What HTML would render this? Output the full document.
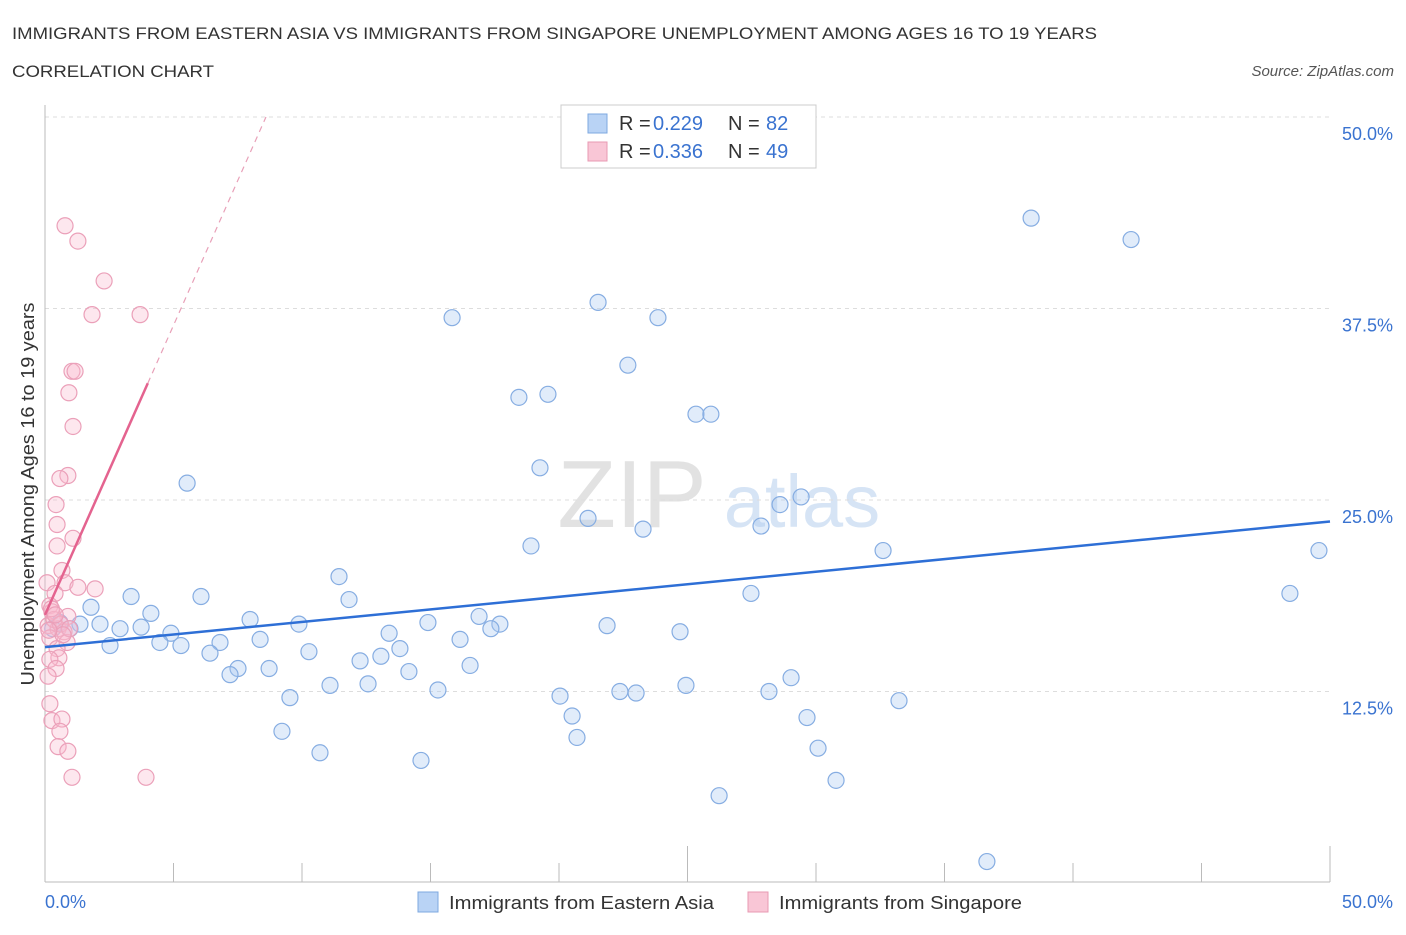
<!DOCTYPE html>
<html><head><meta charset="utf-8"><style>
body{margin:0;background:#fff;font-family:"Liberation Sans",sans-serif;}
svg text{font-family:"Liberation Sans",sans-serif;}
</style></head><body>
<svg id="chart" width="1406" height="930">
<text x="12" y="39" font-size="17" fill="#333" textLength="1085" lengthAdjust="spacingAndGlyphs">IMMIGRANTS FROM EASTERN ASIA VS IMMIGRANTS FROM SINGAPORE UNEMPLOYMENT AMONG AGES 16 TO 19 YEARS</text>
<text x="12" y="77" font-size="17" fill="#333" textLength="202" lengthAdjust="spacingAndGlyphs">CORRELATION CHART</text>
<text x="1394" y="76" font-size="15" fill="#555" font-style="italic" text-anchor="end">Source: ZipAtlas.com</text>
<g><text x="632" y="527" font-size="96" fill="#e2e2e2" font-family="Liberation Serif" text-anchor="middle">ZIP</text><text x="802" y="527" font-size="74" fill="#d6e4f5" text-anchor="middle">atlas</text></g>
<g id="grid"></g><g id="axes"></g><g id="marks"></g>
<text transform="translate(34,494) rotate(-90)" font-size="18" fill="#333" text-anchor="middle" textLength="383" lengthAdjust="spacingAndGlyphs">Unemployment Among Ages 16 to 19 years</text>
<g>
<rect x="561" y="105" width="255" height="63" fill="#fff" stroke="#ccc"/>
<rect x="588" y="114" width="19" height="19" fill="#b9d3f5" stroke="#7ea8e0"/>
<rect x="588" y="142" width="19" height="19" fill="#f9c6d6" stroke="#e89ab3"/>
<text x="619" y="130" font-size="20" fill="#333">R =</text><text x="653" y="130" font-size="20" fill="#3a73d0">0.229</text>
<text x="728" y="130" font-size="20" fill="#333">N =</text><text x="766" y="130" font-size="20" fill="#3a73d0">82</text>
<text x="619" y="158" font-size="20" fill="#333">R =</text><text x="653" y="158" font-size="20" fill="#3a73d0">0.336</text>
<text x="728" y="158" font-size="20" fill="#333">N =</text><text x="766" y="158" font-size="20" fill="#3a73d0">49</text>
</g>
<g>
<rect x="418" y="892" width="20" height="20" fill="#b9d3f5" stroke="#7ea8e0"/>
<text x="449" y="909" font-size="18" fill="#333" textLength="265" lengthAdjust="spacingAndGlyphs">Immigrants from Eastern Asia</text>
<rect x="748" y="892" width="20" height="20" fill="#f9c6d6" stroke="#e89ab3"/>
<text x="779" y="909" font-size="18" fill="#333" textLength="243" lengthAdjust="spacingAndGlyphs">Immigrants from Singapore</text>
</g>
</svg>
<script>
const blueX=[38.37,42.26,49.57,48.44,21.52,23.85,15.84,22.68,18.44,19.57,25.33,25.91,19.26,5.53,29.42,28.6,21.13,23.27,27.86,18.91,32.61,11.44,27.47,3.35,6.07,11.83,4.12,1.79,7.98,16.89,14.9,17.7,17.35,21.87,9.88,3.74,2.92,2.14,1.36,0.97,0.58,24.71,13.39,4.9,8.37,16.15,4.47,6.81,5.29,2.53,13.81,10.27,6.42,13.07,12.26,16.54,8.72,14.16,7.51,7.2,29.03,11.09,12.57,24.94,15.29,22.37,23.0,28.17,9.53,20.04,33.23,20.51,29.65,9.22,20.7,30.08,10.7,14.63,30.78,26.23,36.65,0.3];
const blueY=[43.4,42.0,21.7,18.9,37.9,36.9,36.9,33.8,31.7,31.9,30.6,30.6,27.1,26.1,25.2,24.7,23.8,23.1,23.3,22.0,21.7,20.0,18.9,18.7,18.7,18.5,17.6,18.0,17.2,17.4,17.0,16.9,16.6,16.8,16.9,16.7,16.6,16.9,16.9,16.6,17.0,16.4,16.3,16.3,15.9,15.9,15.7,15.7,15.5,15.5,15.3,15.1,15.0,14.8,14.5,14.2,14.0,13.8,14.0,13.6,13.4,12.9,13.0,12.9,12.6,12.5,12.4,12.5,12.1,12.2,11.9,10.9,10.8,9.9,9.5,8.8,8.5,8.0,6.7,5.7,1.4,16.6];
const pinkX=[0.78,1.28,2.3,1.83,3.7,1.05,1.17,0.93,1.09,0.89,0.58,0.43,0.47,0.47,1.09,0.66,0.78,0.08,1.28,1.95,0.39,0.19,0.27,0.89,0.12,0.51,0.74,0.19,0.86,0.47,0.54,0.19,0.43,0.12,0.19,0.27,0.66,0.58,0.51,0.89,1.05,3.93,0.35,0.6,0.95,0.25,0.7,0.4,0.15];
const pinkY=[42.9,41.9,39.3,37.1,37.1,33.4,33.4,32.0,29.8,26.6,26.4,24.7,23.4,22.0,22.5,20.4,19.6,19.6,19.3,19.2,18.9,18.1,17.7,17.4,16.8,16.6,16.4,16.0,15.7,15.3,14.7,14.6,14.0,13.5,11.7,10.6,10.7,9.9,8.9,8.6,6.9,6.9,17.2,16.9,16.6,17.9,16.2,17.5,16.5];
const yTicks=[12.5,25,37.5,50];
const blueTrend=[15.4,23.6];
const pinkTrend=[17.5,3.78];
const X=v=>45+v*25.7, Y=v=>883-v*15.32;
const NS='http://www.w3.org/2000/svg';
function mk(t,a,p){const e=document.createElementNS(NS,t);for(const k in a)e.setAttribute(k,a[k]);p.appendChild(e);return e;}
const grid=document.getElementById('grid'),axes=document.getElementById('axes'),marks=document.getElementById('marks');
yTicks.forEach(t=>{
 const l=mk('line',{x1:45,x2:1330,y1:Y(t),y2:Y(t),stroke:'#ddd','stroke-dasharray':'4,4'},grid);
 
 
 const tx=mk('text',{x:1393,y:Y(t)+23,'font-size':18,fill:'#3a73d0','text-anchor':'end'},axes);tx.textContent=t.toFixed(1)+'%';
 
 
});
const ax=mk('line',{x1:45,x2:1330,y1:882,y2:882,stroke:'#bbb'},axes);


const ay=mk('line',{x1:45,x2:45,y1:105,y2:882,stroke:'#bbb'},axes);


for(let i=0;i<=10;i++){const v=i*5;const tk=mk('line',{x1:X(v),x2:X(v),y1:(i==5||i==10)?846:863,y2:882,stroke:'#bbb'},axes);
 
 }
[['0.0%',45,'start'],['50.0%',1393,'end']].forEach(d=>{const t=mk('text',{x:d[1],y:908,'font-size':18,fill:'#3a73d0','text-anchor':d[2]},axes);t.textContent=d[0];
 
 });
blueX.forEach((x,i)=>{const c=mk('circle',{cx:X(x),cy:Y(blueY[i]),r:8,fill:'rgba(170,200,240,0.35)',stroke:'#86ade2','stroke-width':1.2},marks);
 
 });
pinkX.forEach((x,i)=>{const c=mk('circle',{cx:X(x),cy:Y(pinkY[i]),r:8,fill:'rgba(248,185,205,0.35)',stroke:'#eba0b9','stroke-width':1.2},marks);
 
 });
const bl=mk('line',{x1:X(0),y1:Y(blueTrend[0]),x2:X(50),y2:Y(blueTrend[1]),stroke:'#2e6fd6','stroke-width':2.5},marks);


const xEnd=(50-pinkTrend[0])/pinkTrend[1];
const pd=mk('line',{x1:X(4),y1:Y(pinkTrend[0]+4*pinkTrend[1]),x2:X(xEnd),y2:Y(50),stroke:'#e8a0b8','stroke-width':1.2,'stroke-dasharray':'6,5'},marks);


const ps=mk('line',{x1:X(0),y1:Y(pinkTrend[0]),x2:X(4),y2:Y(pinkTrend[0]+4*pinkTrend[1]),stroke:'#e4638f','stroke-width':2.5},marks);


</script>
</body></html>
